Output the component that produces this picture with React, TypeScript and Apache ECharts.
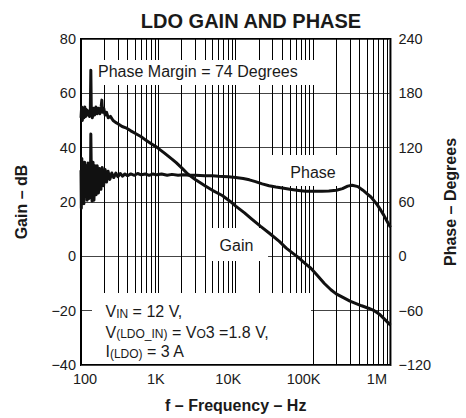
import React, { useEffect, useRef } from 'react';
import * as echarts from 'echarts';

const FONT = '"Liberation Sans", Arial, Helvetica, sans-serif';
const INK = '#1a1a1a';

const TITLE = 'LDO GAIN AND PHASE';
const X_NAME = 'f – Frequency – Hz';
const Y_LEFT_NAME = 'Gain – dB';
const Y_RIGHT_NAME = 'Phase – Degrees';

const X_TICK_VALUES = [100, 1000, 10000, 100000, 1000000];
const X_TICK_LABELS = ['100', '1K', '10K', '100K', '1M'];
const X_LABEL_OFFSET = [4, -2.5, -7.5, -9.5, -13.5];
const DECADES = [100, 1000, 10000, 100000];
const MINOR_MULT = [2, 3, 4, 5, 6, 7, 8, 9];

// Gain (dB) vs frequency (Hz)
const GAIN: [number, number][] = [
  [100, 51], [102, 55], [104, 50], [106.5, 54.5], [109, 51], [112, 55], [115, 51.5],
  [118, 54], [121, 52], [125, 53.5], [129, 51.5], [132, 54], [134, 68.5], [136, 53],
  [140, 51], [145, 54.5], [150, 52], [156, 55], [162, 52.5], [168, 54.5], [175, 52.5],
  [182, 55], [186, 57.5], [190, 53], [197, 54.5], [205, 52], [214, 53], [225, 51],
  [240, 51.5], [260, 50], [280, 49.3],
  [300, 48.8], [340, 47.8], [380, 47.3], [440, 46.2], [500, 45.3], [600, 44], [700, 42.6],
  [800, 41.5], [950, 40.2], [1200, 38], [1500, 35.8], [1700, 34.5], [2050, 32.3],
  [2400, 30.3], [3000, 28.3], [4000, 26], [5000, 24.3], [6700, 22.4], [8500, 20.2],
  [10000, 18.5], [13000, 16], [16000, 13.8], [20800, 11.1], [27000, 8.6], [36600, 5.5],
  [45000, 3], [55000, 1.1], [62000, 0], [80000, -2.8], [93000, -4.3], [113000, -7],
  [140000, -10], [170000, -12.3], [199000, -13.8], [250000, -15.3], [300000, -16.5],
  [360000, -17.4], [425000, -18.2], [520000, -19.1], [618000, -20], [720000, -21.3],
  [850000, -23.3], [1000000, -25.3],
];

// Phase (degrees) vs frequency (Hz)
const PHASE: [number, number][] = [
  [100, 95], [101, 53], [102.5, 108], [104.5, 60], [106.5, 102], [109, 58], [111.5, 104],
  [114, 66], [117, 100], [120, 62], [123.5, 103], [127, 64], [130.5, 100], [132.5, 80],
  [134, 135], [136, 92], [139, 61], [143, 104], [147, 62], [152, 100], [157, 68],
  [162, 100], [168, 70], [174, 97], [181, 74], [188, 98], [196, 78], [205, 96], [214, 82],
  [224, 94], [236, 85], [250, 92], [265, 87], [282, 92], [300, 88], [322, 91.5],
  [345, 88.5], [370, 91], [400, 89], [440, 91], [490, 89.5], [540, 91.5], [600, 90],
  [680, 91], [760, 89.5], [850, 91], [950, 90], [1100, 91], [1300, 89.5], [1500, 90.5],
  [1800, 89.5], [2100, 90], [2500, 89.5], [3000, 89.5], [4000, 89], [5000, 89],
  [6000, 88.5], [8000, 88], [10000, 87], [12500, 86], [15000, 84.5], [18000, 82.5],
  [22000, 80], [27000, 78], [33000, 76.5], [40000, 75.5], [50000, 74], [65000, 72.8],
  [80000, 72], [100000, 71.8], [130000, 71.8], [160000, 72.2], [200000, 73],
  [240000, 74.8], [280000, 77.5], [320000, 78.5], [380000, 77], [440000, 73],
  [500000, 69], [560000, 65.5], [620000, 61], [680000, 56.5], [750000, 51],
  [820000, 45.5], [900000, 39], [1000000, 32],
];

const MASKS = [
  { x: 95, y: 60, w: 225, h: 25 },
  { x: 271, y: 155, w: 78, h: 31 },
  { x: 206, y: 228, w: 62, h: 33 },
  { x: 92, y: 293, w: 219, h: 71 },
];

const minus = (v: number) => (v < 0 ? '\u2212' + Math.abs(v) : String(v));

const richMain = { fontSize: 16, fontFamily: FONT, fill: INK, lineHeight: 20, verticalAlign: 'bottom' };
const richSub = { fontSize: 12, fontFamily: FONT, fill: INK, lineHeight: 12, verticalAlign: 'bottom' };

function textEl(text: string, x: number, y: number, align: string) {
  return {
    type: 'text',
    x,
    y,
    z: 12,
    silent: true,
    style: {
      text,
      fontSize: 16,
      fontFamily: FONT,
      fill: INK,
      align,
      textAlign: align,
      verticalAlign: 'middle',
      textVerticalAlign: 'middle',
      rich: { m: richMain, s: richSub },
    },
  };
}

export default function App() {
  const ref = useRef<HTMLDivElement>(null);
  useEffect(() => {
    document.body.style.margin = '0';
    const chart = echarts.init(ref.current!, null, { renderer: 'svg' });
    const minorLines: { xAxis: number }[] = [];
    DECADES.forEach((d) => MINOR_MULT.forEach((m) => minorLines.push({ xAxis: d * m })));

    const baseGraphic: any[] = [
      ...MASKS.map((m) => ({
        type: 'rect',
        z: 6,
        silent: true,
        shape: { x: m.x, y: m.y, width: m.w, height: m.h },
        style: { fill: '#fff' },
      })),
      textEl('{m|Phase Margin = 74 Degrees}', 98, 69.5, 'left'),
      textEl('{m|Phase}', 313, 170.5, 'center'),
      textEl('{m|Gain}', 236.5, 243.5, 'center'),
      textEl('{m|V}{s|IN}{m| = 12 V,}', 105.5, 309.5, 'left'),
      textEl('{m|V}{s|(LDO_IN)}{m| = V}{s|O}{m|3 =1.8 V,}', 105.5, 330, 'left'),
      textEl('{m|I}{s|(LDO)}{m| = 3 A}', 105.5, 349.5, 'left'),
    ];

    const option: any = {
      animation: false,
      backgroundColor: '#fff',
      title: {
        text: TITLE,
        left: 246,
        top: 6,
        textAlign: 'center',
        textStyle: { fontSize: 20, fontWeight: 'bold', fontFamily: FONT, color: INK },
      },
      grid: {
        left: 81,
        right: 59,
        top: 39,
        bottom: 50,
        show: true,
        borderColor: '#000',
        borderWidth: 2,
        backgroundColor: 'transparent',
      },
      xAxis: {
        type: 'log',
        logBase: 10,
        min: 100,
        max: 1000000,
        axisLine: { show: false },
        axisTick: { show: false },
        splitLine: { show: true, lineStyle: { color: '#000', width: 1 } },
        axisLabel: { show: false },
        name: X_NAME,
        nameLocation: 'middle',
        nameGap: 32,
        nameTextStyle: { fontSize: 16, fontWeight: 'bold', fontFamily: FONT, color: INK },
      },
      yAxis: [
        {
          type: 'value',
          position: 'left',
          min: -40,
          max: 80,
          interval: 20,
          axisLine: { show: false },
          axisTick: { show: false },
          splitLine: { show: true, lineStyle: { color: '#444', width: 1 } },
          axisLabel: { margin: 5, fontSize: 14.5, fontFamily: FONT, color: INK, formatter: minus },
          name: Y_LEFT_NAME,
          nameLocation: 'middle',
          nameGap: 52,
          nameRotate: 90,
          nameTextStyle: { fontSize: 16, fontWeight: 'bold', fontFamily: FONT, color: INK },
        },
        {
          type: 'value',
          position: 'right',
          min: -120,
          max: 240,
          interval: 60,
          axisLine: { show: false },
          axisTick: { show: false },
          splitLine: { show: false },
          axisLabel: { margin: 8, fontSize: 14.5, fontFamily: FONT, color: INK, formatter: minus },
          name: Y_RIGHT_NAME,
          nameLocation: 'middle',
          nameGap: 41,
          nameRotate: 90,
          nameTextStyle: { fontSize: 16, fontWeight: 'bold', fontFamily: FONT, color: INK },
        },
      ],
      series: [
        {
          type: 'line',
          name: 'grid',
          data: [],
          z: 1,
          silent: true,
          markLine: {
            z: 1,
            silent: true,
            symbol: ['none', 'none'],
            label: { show: false },
            emphasis: { disabled: true },
            lineStyle: { color: '#000', width: 1, type: 'solid' },
            data: minorLines,
          },
        },
        {
          type: 'line',
          name: 'Gain',
          yAxisIndex: 0,
          data: GAIN,
          symbol: 'none',
          showSymbol: false,
          z: 10,
          silent: true,
          lineStyle: { color: '#111', width: 3, join: 'round' },
        },
        {
          type: 'line',
          name: 'Phase',
          yAxisIndex: 1,
          data: PHASE,
          symbol: 'none',
          showSymbol: false,
          z: 10,
          silent: true,
          lineStyle: { color: '#111', width: 3, join: 'round' },
        },
      ],
      graphic: baseGraphic,
    };
    chart.setOption(option);

    // x tick labels placed through the axis scale
    const axisBottom = chart.convertToPixel({ yAxisIndex: 0 }, -40) as number;
    const xLabels = X_TICK_VALUES.map((v, i) => {
      const px = chart.convertToPixel({ xAxisIndex: 0 }, v) as number;
      return {
        type: 'text',
        x: px + X_LABEL_OFFSET[i],
        y: axisBottom + 14,
        z: 12,
        silent: true,
        style: {
          text: X_TICK_LABELS[i],
          fontSize: 14.5,
          fontFamily: FONT,
          fill: INK,
          align: 'center',
          textAlign: 'center',
          verticalAlign: 'middle',
          textVerticalAlign: 'middle',
        },
      };
    });
    chart.setOption({ graphic: [...baseGraphic, ...xLabels] });
    return () => chart.dispose();
  }, []);
  return <div ref={ref} style={{ width: 466, height: 418 }} />;
}
